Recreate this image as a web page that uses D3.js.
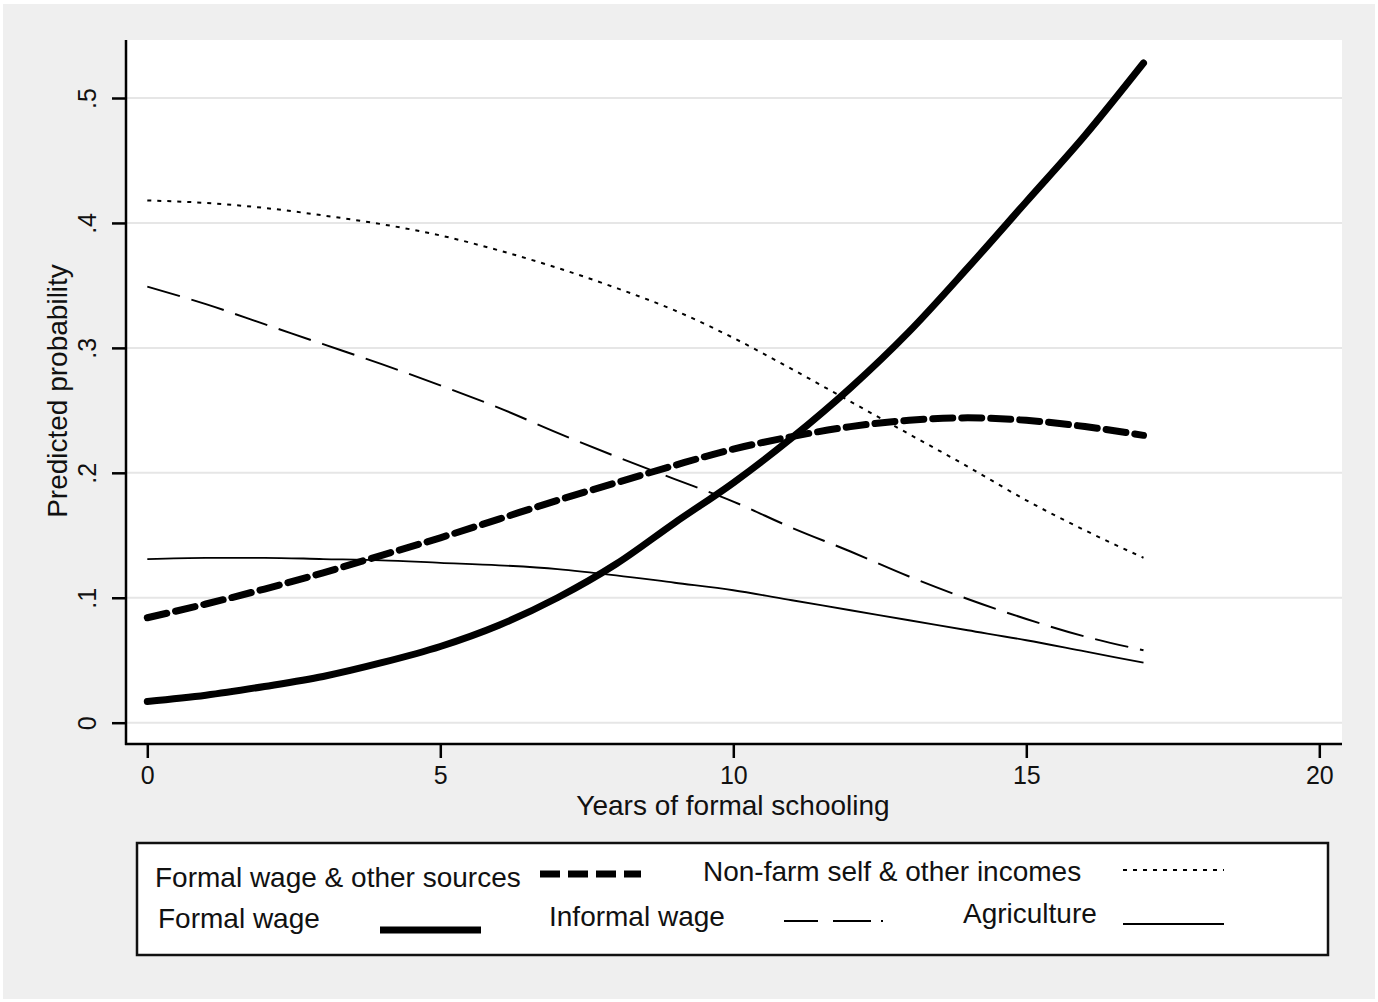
<!DOCTYPE html>
<html>
<head>
<meta charset="utf-8">
<script src="https://cdn.jsdelivr.net/npm/d3@7"></script>
<style>
  body { margin: 0; background: #fff; }
  text { font-family: Arial, "Liberation Sans", sans-serif; fill: #111; }
</style>
</head>
<body>
<svg id="drawing_region"></svg>
<script>
// years of formal schooling
const years = d3.range(0, 18);

// predicted probabilities
const formalWageOther = [.084, .095, .107, .120, .134, .148, .163, .178, .192, .206, .219, .229, .237, .242, .244, .242, .237, .230];
const nonFarmSelf     = [.418, .416, .412, .406, .399, .390, .378, .364, .348, .330, .308, .283, .257, .231, .205, .178, .154, .132];
const formalWage      = [.017, .022, .029, .037, .048, .061, .078, .100, .127, .160, .192, .228, .268, .313, .364, .417, .470, .528];
const informalWage    = [.349, .335, .319, .303, .287, .270, .252, .232, .213, .195, .177, .156, .137, .117, .099, .083, .069, .058];
const agriculture     = [.131, .132, .132, .131, .130, .128, .126, .123, .118, .112, .106, .098, .090, .082, .074, .066, .057, .048];

const xTicks = [0, 5, 10, 15, 20];
const yTicks = [0, .1, .2, .3, .4, .5];
const yTickLabels = ["0", ".1", ".2", ".3", ".4", ".5"];

const seriesNames = ["Formal wage & other sources", "Non-farm self & other incomes", "Formal wage", "Informal wage", "Agriculture"];

const config = {
    width: 1378,
    height: 1002,
    plot: {left: 126, top: 40, right: 1342, bottom: 744}
};

const styles = {
    "Formal wage & other sources":   {width: 7,   dash: "20,9"},
    "Non-farm self & other incomes": {width: 2,   dash: "4,6"},
    "Formal wage":                   {width: 7,   dash: null},
    "Informal wage":                 {width: 2,   dash: "34,12"},
    "Agriculture":                   {width: 1.8, dash: null}
};

const seriesValues = [formalWageOther, nonFarmSelf, formalWage, informalWage, agriculture];
const series = seriesNames.map((name, i) => ({
    name: name,
    values: years.map((yr, j) => ({x: yr, y: seriesValues[i][j]}))
}));

const svg = d3.select('#drawing_region')
    .attr('width', config.width)
    .attr('height', config.height);

// grey frame
svg.append('rect')
    .attr('x', 3).attr('y', 4)
    .attr('width', config.width - 6).attr('height', config.height - 7)
    .attr('fill', '#efefef');

const p = config.plot;
svg.append('rect')
    .attr('x', p.left).attr('y', p.top)
    .attr('width', p.right - p.left).attr('height', p.bottom - p.top)
    .attr('fill', '#fff');

const xscale = d3.scaleLinear().domain([0, 20]).range([147.3, 1319.3]);
const yscale = d3.scaleLinear().domain([0, .5]).range([722.7, 98]);

// gridlines
svg.append('g').selectAll('line')
    .data(yTicks)
    .join('line')
    .attr('x1', p.left).attr('x2', p.right)
    .attr('y1', d => yscale(d)).attr('y2', d => yscale(d))
    .attr('stroke', '#e6e6e6')
    .attr('stroke-width', 2);

// axes
const xaxis = d3.axisBottom(xscale)
    .tickValues(xTicks)
    .tickSize(14)
    .tickPadding(8)
    .tickSizeOuter(0);

const xaxis_group = svg.append('g')
    .attr('transform', `translate(0, ${p.bottom})`)
    .call(xaxis);
xaxis_group.select('.domain').remove();
xaxis_group.append('line')
    .attr('x1', p.left - 1).attr('x2', p.right)
    .attr('stroke', '#000').attr('stroke-width', 2.5);
xaxis_group.selectAll('.tick line').attr('stroke', '#000').attr('stroke-width', 2.5);
xaxis_group.selectAll('.tick text')
    .attr('font-size', '25px')
    .attr('font-family', 'Arial, "Liberation Sans", sans-serif')
    .attr('fill', '#111');

const yaxis = d3.axisLeft(yscale)
    .tickValues(yTicks)
    .tickFormat((d, i) => yTickLabels[i])
    .tickSize(14)
    .tickSizeOuter(0);

const yaxis_group = svg.append('g')
    .attr('transform', `translate(${p.left}, 0)`)
    .call(yaxis);
yaxis_group.select('.domain').remove();
yaxis_group.append('line')
    .attr('y1', p.top).attr('y2', p.bottom + 1)
    .attr('stroke', '#000').attr('stroke-width', 2.5);
yaxis_group.selectAll('.tick line').attr('stroke', '#000').attr('stroke-width', 2.5);
yaxis_group.selectAll('.tick text')
    .attr('font-size', '25px')
    .attr('font-family', 'Arial, "Liberation Sans", sans-serif')
    .attr('fill', '#111')
    .attr('text-anchor', 'middle')
    .attr('dy', 0)
    .attr('x', 0)
    .attr('transform', 'translate(-30, 0) rotate(-90)');

// axis titles
svg.append('text')
    .attr('x', 733)
    .attr('y', 815)
    .attr('text-anchor', 'middle')
    .attr('font-size', '28px')
    .text('Years of formal schooling');

svg.append('text')
    .attr('transform', 'translate(67, 391) rotate(-90)')
    .attr('text-anchor', 'middle')
    .attr('font-size', '28px')
    .text('Predicted probability');

// lines
const line = d3.line()
    .x(d => xscale(d.x))
    .y(d => yscale(d.y))
    .curve(d3.curveMonotoneX);

svg.append('g').selectAll('path')
    .data(series)
    .join('path')
    .attr('d', d => line(d.values))
    .attr('fill', 'none')
    .attr('stroke', '#000')
    .attr('stroke-width', d => styles[d.name].width)
    .attr('stroke-dasharray', d => styles[d.name].dash)
    .attr('stroke-linecap', d => styles[d.name].width > 5 ? 'round' : 'butt')
    .attr('stroke-linejoin', 'round');

// legend
const legendBox = {x: 137, y: 843, w: 1191, h: 112};
const legend = svg.append('g');
legend.append('rect')
    .attr('x', legendBox.x).attr('y', legendBox.y)
    .attr('width', legendBox.w).attr('height', legendBox.h)
    .attr('fill', '#fff')
    .attr('stroke', '#111')
    .attr('stroke-width', 2.5);

const legendLayout = [
    {tx: 155, ty: 887, sx: 540, sy: 874, dash: "20,8"},
    {tx: 703, ty: 881, sx: 1123, sy: 870, dash: "4,6"},
    {tx: 158, ty: 928, sx: 380, sy: 930, dash: null},
    {tx: 549, ty: 926, sx: 784, sy: 921, dash: "34,15,38,10,2,200"},
    {tx: 963, ty: 923, sx: 1123, sy: 924, dash: null}
];

const items = legend.selectAll('g.item')
    .data(series)
    .join('g')
    .attr('class', 'item');

items.append('text')
    .attr('x', (d, i) => legendLayout[i].tx)
    .attr('y', (d, i) => legendLayout[i].ty)
    .attr('font-size', '28px')
    .text(d => d.name);

items.append('line')
    .attr('x1', (d, i) => legendLayout[i].sx)
    .attr('x2', (d, i) => legendLayout[i].sx + 101)
    .attr('y1', (d, i) => legendLayout[i].sy)
    .attr('y2', (d, i) => legendLayout[i].sy)
    .attr('stroke', '#000')
    .attr('stroke-width', d => styles[d.name].width)
    .attr('stroke-dasharray', (d, i) => legendLayout[i].dash);
</script>
</body>
</html>
